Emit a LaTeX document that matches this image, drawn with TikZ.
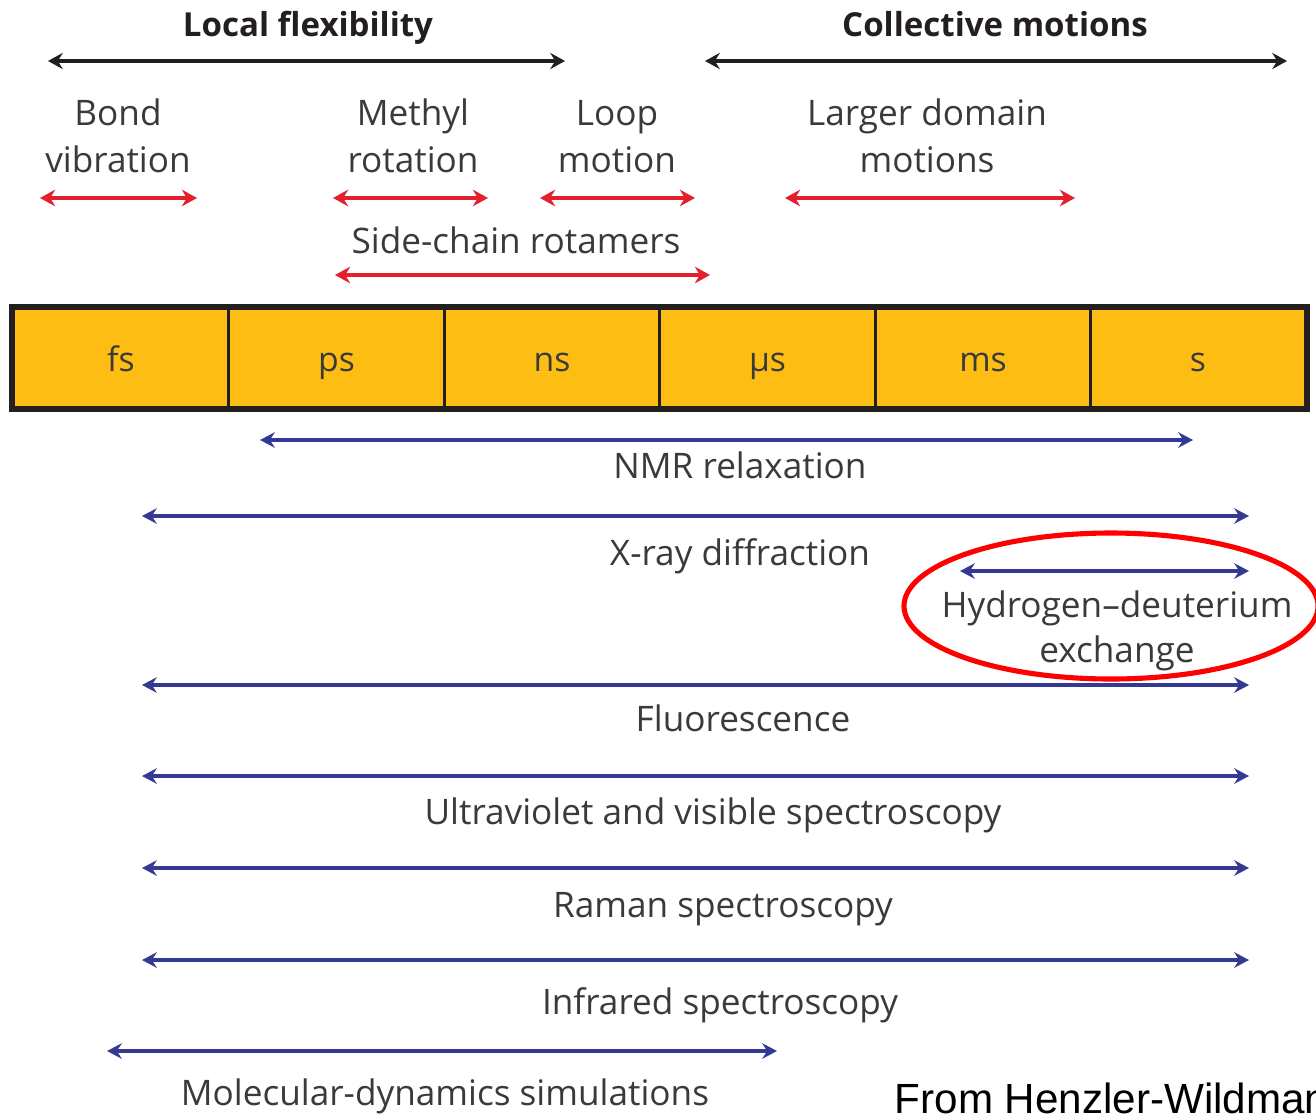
\documentclass[tikz,border=0pt]{standalone}
\usepackage{fontspec}
\setmainfont{Open Sans}
\newfontfamily\creditfont{Liberation Sans}
\usetikzlibrary{arrows.meta}
\definecolor{barfill}{HTML}{FDBD13}
\definecolor{redarr}{HTML}{E3202C}
\definecolor{bluearr}{HTML}{343A94}
\definecolor{txt}{HTML}{3A3A3A}
\definecolor{ttlc}{HTML}{231F20}
\begin{document}
\begin{tikzpicture}[x=0.01cm,y=-0.01cm,
  lbl/.style={font=\fontsize{10}{12}\selectfont, text=txt, inner sep=0pt, anchor=base},
  ttl/.style={font=\fontsize{9.4}{12}\selectfont\bfseries, text=ttlc, inner sep=0pt, anchor=base},
  cell/.style={draw=ttlc, line width=0.9pt, fill=barfill, minimum width=2.155cm, minimum height=1cm, inner sep=0pt, text height=9.6pt, text depth=2.2pt, text=txt, font=\fontsize{9.6}{12}\selectfont},
  blackarrow/.style={draw=ttlc, line width=0.9pt, {Stealth[length=4.2pt,width=4.6pt,inset=1.4pt]}-{Stealth[length=4.2pt,width=4.6pt,inset=1.4pt]}},
  redarrow/.style={draw=redarr, line width=0.95pt, {Stealth[length=4.3pt,width=4.7pt,inset=1.4pt]}-{Stealth[length=4.3pt,width=4.7pt,inset=1.4pt]}},
  bluearrow/.style={draw=bluearr, line width=0.9pt, {Stealth[length=4.2pt,width=4.4pt,inset=1.4pt]}-{Stealth[length=4.2pt,width=4.4pt,inset=1.4pt]}},
  ringstyle/.style={draw=red, line width=1.45pt}
]
\path[use as bounding box] (0,0) rectangle (1316,1115);
\clip (0,0) rectangle (1316,1115);

% titles
\node[ttl] (local) at (308,37) {Local flexibility};
\node[ttl] (collective) at (995,37) {Collective motions};
\coordinate (la1) at (48,61); \coordinate (la2) at (565,61);
\coordinate (ca1) at (705,61); \coordinate (ca2) at (1287,61);
\draw[blackarrow] (la1) -- (la2);
\draw[blackarrow] (ca1) -- (ca2);

% local motion labels
\node[lbl] (bond1) at (118,125) {Bond};
\node[lbl] (bond2) at (118,172) {vibration};
\node[lbl] (methyl1) at (413,125) {Methyl};
\node[lbl] (methyl2) at (413,172) {rotation};
\node[lbl] (loop1) at (617,125) {Loop};
\node[lbl] (loop2) at (617,172) {motion};
\node[lbl] (dom1) at (927,125) {Larger domain};
\node[lbl] (dom2) at (927,172) {motions};
\node[lbl] (side) at (516,253) {Side-chain rotamers};

\coordinate (b1) at (40,198);  \coordinate (b2) at (197,198);
\coordinate (m1) at (333,198); \coordinate (m2) at (488,198);
\coordinate (l1) at (540,198); \coordinate (l2) at (695,198);
\coordinate (d1) at (785,198); \coordinate (d2) at (1075,198);
\coordinate (s1) at (335,275); \coordinate (s2) at (710,275);
\draw[redarrow] (b1) -- (b2);
\draw[redarrow] (m1) -- (m2);
\draw[redarrow] (l1) -- (l2);
\draw[redarrow] (d1) -- (d2);
\draw[redarrow] (s1) -- (s2);

% time-scale bar
\node[cell] (fs) at (121,358) {fs};
\node[cell] (ps) at (336.5,358) {ps};
\node[cell] (ns) at (552,358) {ns};
\node[cell] (us) at (767.5,358) {µs};
\node[cell] (ms) at (983,358) {ms};
\node[cell] (sec) at (1198,358) {s};
\draw[ttlc, line width=1.3pt] (fs.north west) rectangle (sec.south east);

% techniques
\coordinate (n1) at (260,440);  \coordinate (n2) at (1193,440);
\coordinate (x1) at (142,516);  \coordinate (x2) at (1249,516);
\coordinate (h1) at (960,571);  \coordinate (h2) at (1249,571);
\coordinate (f1) at (142,685);  \coordinate (f2) at (1249,685);
\coordinate (u1) at (142,776);  \coordinate (u2) at (1249,776);
\coordinate (r1) at (142,868);  \coordinate (r2) at (1249,868);
\coordinate (i1) at (142,960);  \coordinate (i2) at (1249,960);
\coordinate (md1) at (107,1051); \coordinate (md2) at (777,1051);
\draw[bluearrow] (n1) -- (n2);
\draw[bluearrow] (x1) -- (x2);
\draw[bluearrow] (h1) -- (h2);
\draw[bluearrow] (f1) -- (f2);
\draw[bluearrow] (u1) -- (u2);
\draw[bluearrow] (r1) -- (r2);
\draw[bluearrow] (i1) -- (i2);
\draw[bluearrow] (md1) -- (md2);

\node[lbl] (nmr) at (740,478) {NMR relaxation};
\node[lbl] (xray) at (740,565) {X-ray diffraction};
\node[lbl] (hd1) at (1117,617) {Hydrogen--deuterium};
\node[lbl] (hd2) at (1117,662) {exchange};
\node[lbl] (fluor) at (743,731) {Fluorescence};
\node[lbl] (uv) at (713,824) {Ultraviolet and visible spectroscopy};
\node[lbl] (raman) at (723,917) {Raman spectroscopy};
\node[lbl] (ir) at (720,1014) {Infrared spectroscopy};
\node[lbl] (md) at (445,1105) {Molecular-dynamics simulations};

% highlight ring
\draw[ringstyle] (1111,606) ellipse [x radius=207, y radius=73];

% credit (cut off at the picture's edge, as in the reference)
\node[font=\creditfont\fontsize{12}{14}\selectfont, text=black, inner sep=0pt, anchor=base west] (credit) at (894,1113) {From Henzler-Wildman};
\end{tikzpicture}
\end{document}
